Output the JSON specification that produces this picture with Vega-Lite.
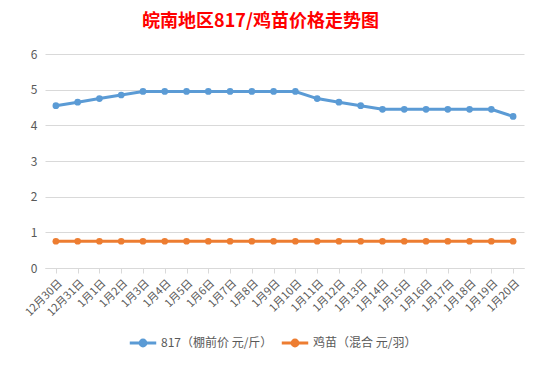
{
  "$schema": "https://vega.github.io/schema/vega-lite/v6.json",
  "width": 479,
  "height": 214,
  "autosize": "none",
  "padding": {"left": 45, "top": 54, "right": 19, "bottom": 97},
  "background": "white",
  "config": {
    "view": {"stroke": null},
    "font": "Noto Sans CJK SC"
  },
  "title": {
    "text": "皖南地区817/鸡苗价格走势图",
    "color": "#FF0000",
    "fontSize": 18,
    "fontWeight": "bold",
    "font": "Noto Sans CJK SC",
    "anchor": "middle",
    "dx": -24,
    "offset": 17
  },
  "data": {
    "values": [
      {"date": "12月30日", "series": "817（棚前价 元/斤）", "value": 4.55},
      {"date": "12月31日", "series": "817（棚前价 元/斤）", "value": 4.65},
      {"date": "1月1日", "series": "817（棚前价 元/斤）", "value": 4.75},
      {"date": "1月2日", "series": "817（棚前价 元/斤）", "value": 4.85},
      {"date": "1月3日", "series": "817（棚前价 元/斤）", "value": 4.95},
      {"date": "1月4日", "series": "817（棚前价 元/斤）", "value": 4.95},
      {"date": "1月5日", "series": "817（棚前价 元/斤）", "value": 4.95},
      {"date": "1月6日", "series": "817（棚前价 元/斤）", "value": 4.95},
      {"date": "1月7日", "series": "817（棚前价 元/斤）", "value": 4.95},
      {"date": "1月8日", "series": "817（棚前价 元/斤）", "value": 4.95},
      {"date": "1月9日", "series": "817（棚前价 元/斤）", "value": 4.95},
      {"date": "1月10日", "series": "817（棚前价 元/斤）", "value": 4.95},
      {"date": "1月11日", "series": "817（棚前价 元/斤）", "value": 4.75},
      {"date": "1月12日", "series": "817（棚前价 元/斤）", "value": 4.65},
      {"date": "1月13日", "series": "817（棚前价 元/斤）", "value": 4.55},
      {"date": "1月14日", "series": "817（棚前价 元/斤）", "value": 4.45},
      {"date": "1月15日", "series": "817（棚前价 元/斤）", "value": 4.45},
      {"date": "1月16日", "series": "817（棚前价 元/斤）", "value": 4.45},
      {"date": "1月17日", "series": "817（棚前价 元/斤）", "value": 4.45},
      {"date": "1月18日", "series": "817（棚前价 元/斤）", "value": 4.45},
      {"date": "1月19日", "series": "817（棚前价 元/斤）", "value": 4.45},
      {"date": "1月20日", "series": "817（棚前价 元/斤）", "value": 4.25},
      {"date": "12月30日", "series": "鸡苗（混合 元/羽）", "value": 0.75},
      {"date": "12月31日", "series": "鸡苗（混合 元/羽）", "value": 0.75},
      {"date": "1月1日", "series": "鸡苗（混合 元/羽）", "value": 0.75},
      {"date": "1月2日", "series": "鸡苗（混合 元/羽）", "value": 0.75},
      {"date": "1月3日", "series": "鸡苗（混合 元/羽）", "value": 0.75},
      {"date": "1月4日", "series": "鸡苗（混合 元/羽）", "value": 0.75},
      {"date": "1月5日", "series": "鸡苗（混合 元/羽）", "value": 0.75},
      {"date": "1月6日", "series": "鸡苗（混合 元/羽）", "value": 0.75},
      {"date": "1月7日", "series": "鸡苗（混合 元/羽）", "value": 0.75},
      {"date": "1月8日", "series": "鸡苗（混合 元/羽）", "value": 0.75},
      {"date": "1月9日", "series": "鸡苗（混合 元/羽）", "value": 0.75},
      {"date": "1月10日", "series": "鸡苗（混合 元/羽）", "value": 0.75},
      {"date": "1月11日", "series": "鸡苗（混合 元/羽）", "value": 0.75},
      {"date": "1月12日", "series": "鸡苗（混合 元/羽）", "value": 0.75},
      {"date": "1月13日", "series": "鸡苗（混合 元/羽）", "value": 0.75},
      {"date": "1月14日", "series": "鸡苗（混合 元/羽）", "value": 0.75},
      {"date": "1月15日", "series": "鸡苗（混合 元/羽）", "value": 0.75},
      {"date": "1月16日", "series": "鸡苗（混合 元/羽）", "value": 0.75},
      {"date": "1月17日", "series": "鸡苗（混合 元/羽）", "value": 0.75},
      {"date": "1月18日", "series": "鸡苗（混合 元/羽）", "value": 0.75},
      {"date": "1月19日", "series": "鸡苗（混合 元/羽）", "value": 0.75},
      {"date": "1月20日", "series": "鸡苗（混合 元/羽）", "value": 0.75}
    ]
  },
  "mark": {
    "type": "line",
    "strokeWidth": 3,
    "point": {"filled": true, "size": 45}
  },
  "encoding": {
    "x": {
      "field": "date",
      "type": "ordinal",
      "sort": null,
      "title": null,
      "scale": {"paddingInner": 0, "paddingOuter": 0},
      "axis": {
        "labelAngle": -45,
        "labelColor": "#595959",
        "labelFontSize": 11,
        "domainColor": "#D9D9D9",
        "tickColor": "#D9D9D9",
        "tickSize": 5,
        "bandPosition": 0,
        "labelPadding": 4,
        "grid": false
      }
    },
    "y": {
      "field": "value",
      "type": "quantitative",
      "title": null,
      "scale": {"domain": [0, 6]},
      "axis": {
        "values": [0, 1, 2, 3, 4, 5, 6],
        "labelColor": "#595959",
        "labelFontSize": 12,
        "domain": false,
        "ticks": false,
        "labelPadding": 8,
        "gridColor": "#D9D9D9",
        "gridWidth": 1
      }
    },
    "color": {
      "field": "series",
      "type": "nominal",
      "sort": null,
      "scale": {"domain": ["817（棚前价 元/斤）", "鸡苗（混合 元/羽）"], "range": ["#5B9BD5", "#ED7D31"]},
      "legend": {
        "title": null,
        "orient": "none",
        "direction": "horizontal",
        "legendX": 83,
        "legendY": 274,
        "labelFontSize": 12,
        "labelColor": "#595959",
        "symbolType": "M-1,0L1,0M-0.22,0a0.22,0.22 0 1,0 0.44,0a0.22,0.22 0 1,0 -0.44,0",
        "symbolSize": 700,
        "symbolStrokeWidth": 3,
        "columnPadding": 2,
        "gridAlign": "none",
        "labelOffset": 3,
        "encode": {
          "symbols": {"update": {"fill": {"scale": "color", "field": "value"}, "fillOpacity": {"value": 1}}}
        }
      }
    }
  }
}
